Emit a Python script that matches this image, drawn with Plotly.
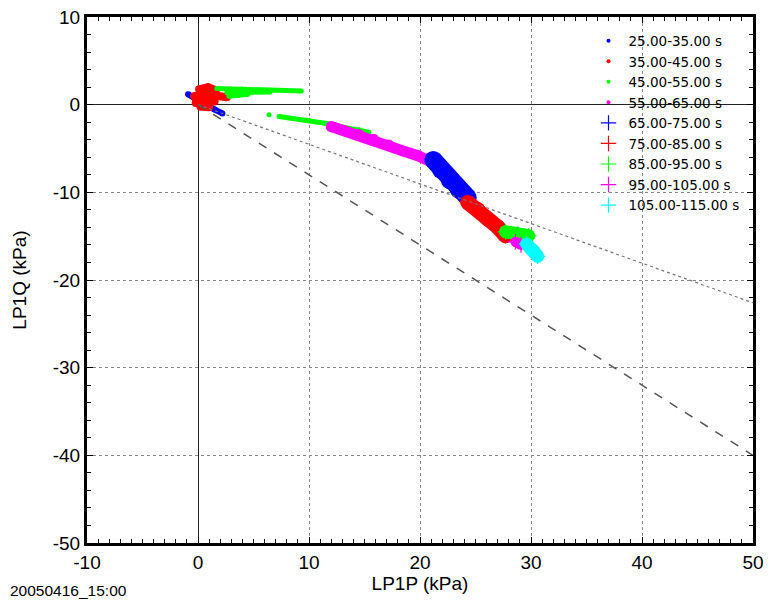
import plotly.graph_objects as go

# ---------------- data ----------------
names = ["25.00-35.00 s", "35.00-45.00 s", "45.00-55.00 s", "55.00-65.00 s",
         "65.00-75.00 s", "75.00-85.00 s", "85.00-95.00 s", "95.00-105.00 s",
         "105.00-115.00 s"]
colors = ["#0000FF", "#FF0000", "#00FF00", "#FF00FF",
          "#0000FF", "#FF0000", "#00FF00", "#FF00FF", "#00FFFF"]

# each cloud is read as a few strokes (None separates strokes)
s1_x = [-0.9, -0.3, 0.6, 1.5, 2.2]
s1_y = [1.2, 0.7, 0.0, -0.55, -1.0]

s2_x = [0.1, 0.9, 1.6, None, -0.35, 0.6, 1.5, 2.6, None, -0.2, 0.6, 1.5, None, 0.2, 1.0]
s2_y = [1.75, 2.0, 1.65, None, 0.95, 1.25, 1.05, 0.85, None, 0.2, 0.45, 0.35, None, -0.2, -0.3]

s3_x = [1.7, 4.0, 6.5, 9.3, None, 2.6, 4.0, 6.5, None, 2.8, 3.6, 4.5, None,
        6.4, None, 7.3, 8.5, 10.0, 11.6, 13.0, 14.5, 15.4]
s3_y = [1.85, 1.8, 1.65, 1.55, None, 1.35, 1.4, 1.45, None, 0.95, 1.05, 1.2, None,
        -1.15, None, -1.35, -1.55, -1.8, -2.15, -2.55, -2.85, -3.15]

s4_x = [12.0, 13.15, 14.5, 15.83, 17.17, 18.52, 19.86, 20.93]
s4_y = [-2.5, -2.95, -3.4, -3.95, -4.6, -5.3, -5.85, -6.5]

s5_x = [21.2, 21.9, 22.7, 23.5, 24.3]
s5_y = [-6.3, -7.45, -8.65, -9.7, -10.6]

s6_x = [24.3, 25.2, 26.1, 27.0, 27.7]
s6_y = [-11.15, -11.95, -13.05, -13.95, -14.95]

s7_x = [27.7, 28.8, 29.8]
s7_y = [-14.5, -14.75, -14.95]

s8_x = [28.6, 29.1]
s8_y = [-15.65, -16.0]

s9_x = [29.6, 30.2, 30.6]
s9_y = [-15.9, -16.6, -17.3]

series_x = [s1_x, s2_x, s3_x, s4_x, s5_x, s6_x, s7_x, s8_x, s9_x]
series_y = [s1_y, s2_y, s3_y, s4_y, s5_y, s6_y, s7_y, s8_y, s9_y]

dash_x = [0, 50]
dash_y = [0, -40]
dot_x = [0, 50]
dot_y = [0, -22.6]

x_ticks = [-10, 0, 10, 20, 30, 40, 50]
x_tick_text = ["-10", "0", "10", "20", "30", "40", "50"]
y_ticks = [10, 0, -10, -20, -30, -40, -50]
y_tick_text = ["10", "0", "-10", "-20", "-30", "-40", "-50"]

# ---------------- styles ----------------
band_w = [6, 8, 5, 11, 18, 15, 13, 10, 13]
is_cross = [False] * 4 + [True] * 5
FONT = "Liberation Sans, Arial, sans-serif"
LEG_FONT = "DejaVu Sans, sans-serif"

fig = go.Figure()
for i in range(9):
    fig.add_trace(go.Scatter(
        x=series_x[i], y=series_y[i], mode="lines+markers",
        line=dict(color=colors[i], width=band_w[i]),
        marker=dict(color=colors[i], size=band_w[i], symbol="circle"),
        connectgaps=False, showlegend=False, hoverinfo="skip"))
    if is_cross[i]:
        mk = dict(color=colors[i], size=11, symbol="cross-thin",
                  line=dict(color=colors[i], width=1.2))
    else:
        mk = dict(color=colors[i], size=4, symbol="circle")
    fig.add_trace(go.Scatter(
        x=series_x[i], y=series_y[i], mode="markers", name=names[i],
        marker=mk, showlegend=True))

fig.add_trace(go.Scatter(x=dot_x, y=dot_y, mode="lines",
                         line=dict(color="#777777", width=1.2, dash="dot"),
                         showlegend=False, hoverinfo="skip"))
fig.add_trace(go.Scatter(x=dash_x, y=dash_y, mode="lines",
                         line=dict(color="#555555", width=1.5, dash="dash"),
                         showlegend=False, hoverinfo="skip"))

axis_common = dict(
    showline=True, linecolor="black", linewidth=3, mirror="ticks",
    ticks="inside", ticklen=6, tickwidth=1, tickcolor="black",
    showgrid=True, gridcolor="#888888", gridwidth=1, griddash="dot",
    zeroline=True, zerolinecolor="#222222", zerolinewidth=1,
    tickfont=dict(family=FONT, size=19, color="black"),
    automargin=False,
)

fig.update_xaxes(range=[-10, 50], tickmode="array", tickvals=x_ticks,
                 ticktext=x_tick_text,
                 minor=dict(dtick=1, ticks="inside", ticklen=4,
                            tickcolor="black", showgrid=False),
                 title=dict(text="LP1P (kPa)", standoff=2,
                            font=dict(family=FONT, size=19, color="black")),
                 **axis_common)
fig.update_yaxes(range=[-50, 10], tickmode="array", tickvals=y_ticks,
                 ticktext=y_tick_text,
                 minor=dict(dtick=2, ticks="inside", ticklen=4,
                            tickcolor="black", showgrid=False),
                 title=dict(text="LP1Q (kPa)", standoff=22,
                            font=dict(family=FONT, size=19, color="black")),
                 **axis_common)

fig.update_layout(
    width=771, height=600,
    margin=dict(l=87, r=18, t=17, b=57),
    paper_bgcolor="white", plot_bgcolor="white",
    font=dict(family=FONT, color="black"),
    legend=dict(x=0.753, y=0.984, xanchor="left", yanchor="top",
                bgcolor="rgba(0,0,0,0)", borderwidth=0,
                font=dict(family=LEG_FONT, size=13.5, color="black"),
                itemsizing="trace"),
    annotations=[dict(text="20050416_15:00", xref="paper", yref="paper",
                      x=-0.1186, y=-0.0894, xanchor="left", yanchor="middle",
                      showarrow=False,
                      font=dict(family=FONT, size=15.5, color="black"))],
)

fig.write_html("out.html")
